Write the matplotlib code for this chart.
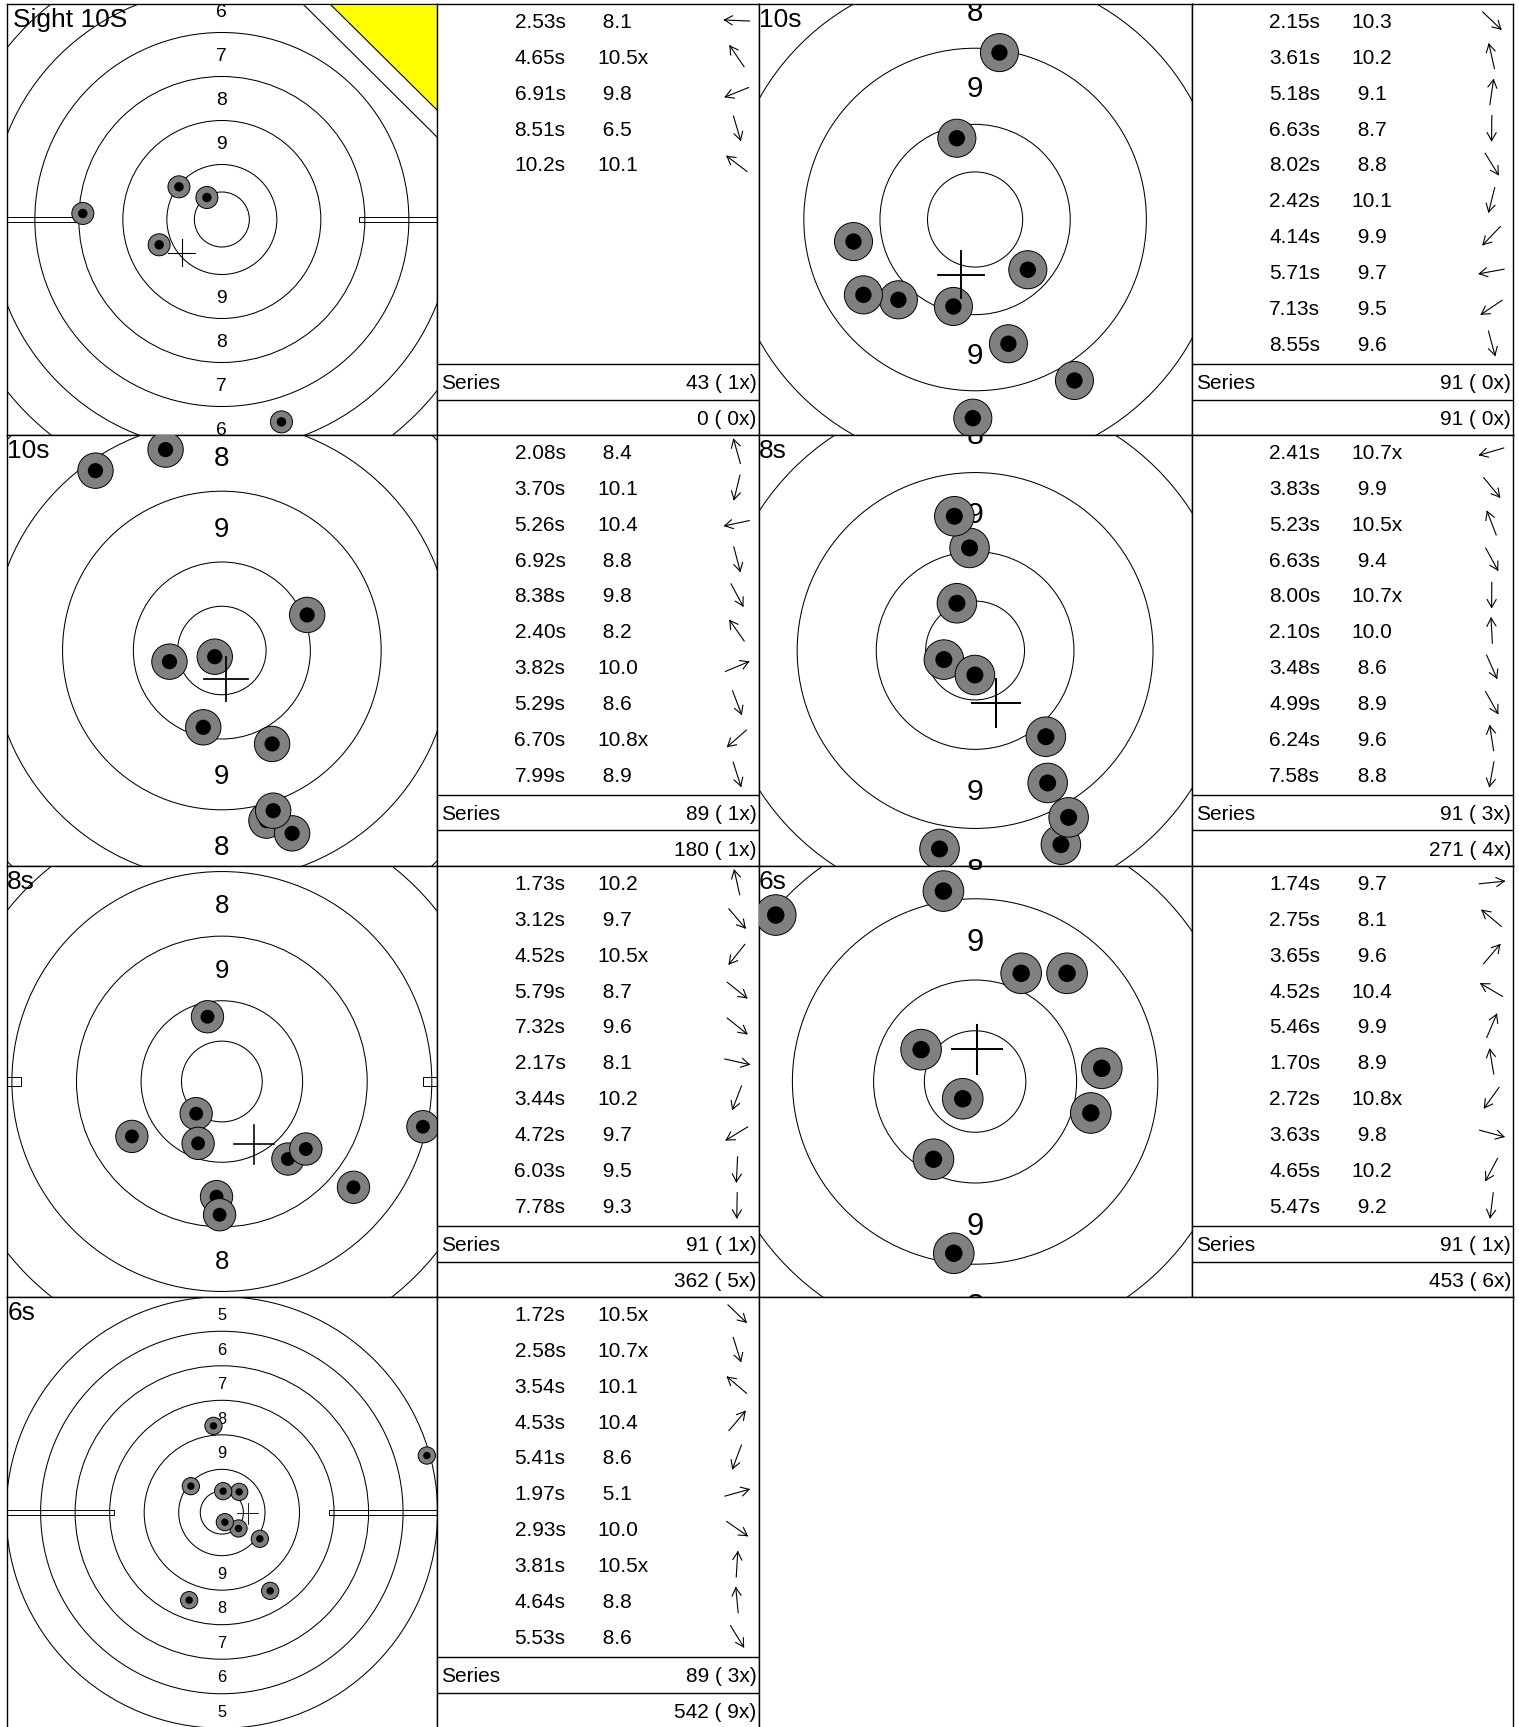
import numpy as np
import matplotlib
matplotlib.use('Agg')
import matplotlib.pyplot as plt
from matplotlib.patches import Circle, Rectangle, Polygon

plt.rcParams['font.family'] = ['Liberation Sans', 'DejaVu Sans']

W, H = 1519, 1727

# ---- data ----
# 25m rapid fire target, ring radii in mm (inner ten, 10, 9, 8, 7, 6, 5)
ring_r = [25, 50, 90, 130, 170, 210, 250]
ring_labels = [9, 8, 7, 6, 5]
label_r = [70, 110, 150, 190, 230]

panel_names = ['Sight 10S', '10s', '10s', '8s', '8s', '6s', '6s']
is_sight = [True, False, False, False, False, False, False]

# shot positions (mm from centre, y up), in table order
shots_x = [
    [-126.4, -13.6, -57.0, 54.2, -39.0],
    [27.7, -9.6, 12.8, -1.2, 52.2, -11.4, -40.3, -63.9, -58.7, 17.5],
    [-31.8, -10.5, -29.6, 25.2, 28.4, -71.4, 48.2, 39.7, -4.0, 29.0],
    [-15.8, 35.8, -9.2, 36.7, -0.1, -2.8, 43.4, 47.3, -10.5, -18.0],
    [-8.9, 40.9, -15.9, 81.5, 52.0, 124.5, -14.7, -55.7, -3.3, -1.4],
    [62.4, -98.2, 45.3, -26.6, 22.7, -15.6, -6.1, 57.0, -20.5, -10.5],
    [19.3, 3.5, -35.9, 20.1, -37.9, 237.5, 44.0, 1.5, -9.7, 56.0],
]
shots_y = [
    [5.5, 20.0, -23.0, -184.0, 29.7],
    [-26.4, 42.7, 87.7, -104.4, -84.6, -45.7, -42.2, -11.6, -39.6, -65.3],
    [113.5, -43.4, -6.3, -96.1, -52.8, 101.6, 20.1, -103.3, -3.5, -90.5],
    [-4.6, -43.6, 23.9, -67.0, -12.4, 51.9, -98.2, -84.4, 67.9, -100.4],
    [40.1, -48.0, -19.9, -65.5, -41.8, -28.0, -38.3, -34.0, -71.3, -82.5],
    [6.5, 82.0, 53.3, 15.7, 53.3, 93.8, -8.5, -15.5, -38.3, -84.6],
    [-18.5, -11.2, 30.5, 23.9, -101.6, 66.0, -30.5, 24.7, 100.4, -90.8],
]
times = [
    ['2.53s', '4.65s', '6.91s', '8.51s', '10.2s'],
    ['2.15s', '3.61s', '5.18s', '6.63s', '8.02s', '2.42s', '4.14s', '5.71s', '7.13s', '8.55s'],
    ['2.08s', '3.70s', '5.26s', '6.92s', '8.38s', '2.40s', '3.82s', '5.29s', '6.70s', '7.99s'],
    ['2.41s', '3.83s', '5.23s', '6.63s', '8.00s', '2.10s', '3.48s', '4.99s', '6.24s', '7.58s'],
    ['1.73s', '3.12s', '4.52s', '5.79s', '7.32s', '2.17s', '3.44s', '4.72s', '6.03s', '7.78s'],
    ['1.74s', '2.75s', '3.65s', '4.52s', '5.46s', '1.70s', '2.72s', '3.63s', '4.65s', '5.47s'],
    ['1.72s', '2.58s', '3.54s', '4.53s', '5.41s', '1.97s', '2.93s', '3.81s', '4.64s', '5.53s'],
]
scores = [
    ['8.1', '10.5x', '9.8', '6.5', '10.1'],
    ['10.3', '10.2', '9.1', '8.7', '8.8', '10.1', '9.9', '9.7', '9.5', '9.6'],
    ['8.4', '10.1', '10.4', '8.8', '9.8', '8.2', '10.0', '8.6', '10.8x', '8.9'],
    ['10.7x', '9.9', '10.5x', '9.4', '10.7x', '10.0', '8.6', '8.9', '9.6', '8.8'],
    ['10.2', '9.7', '10.5x', '8.7', '9.6', '8.1', '10.2', '9.7', '9.5', '9.3'],
    ['9.7', '8.1', '9.6', '10.4', '9.9', '8.9', '10.8x', '9.8', '10.2', '9.2'],
    ['10.5x', '10.7x', '10.1', '10.4', '8.6', '5.1', '10.0', '10.5x', '8.8', '8.6'],
]

# ---- layout (pixels) ----
zoom = [1.1, 1.903, 1.77, 1.977, 1.615, 2.03, 0.863]   # px per mm in each target
col_x = [6.7, 758.5]
tgt_w = [430.3, 433.2]
tbl_w = [321.5, 321.3]
row_y0 = 4.0
row_h = 431.0
first_row = 16.5
row_step = 35.85

fig = plt.figure(figsize=(W / 100, H / 100), dpi=100)


def px_axes(left, top, w, h):
    ax = fig.add_axes([left / W, 1 - (top + h) / H, w / W, h / H])
    ax.set_xticks([])
    ax.set_yticks([])
    for sp in ax.spines.values():
        sp.set_linewidth(1.0)
    return ax


def draw_arrow(ax, cx, cy, ang, L=25, head=9):
    d = np.array([np.cos(ang), -np.sin(ang)])
    tail = np.array([cx, cy]) - d * L / 2
    tip = np.array([cx, cy]) + d * L / 2
    ax.plot([tail[0], tip[0]], [tail[1], tip[1]], color='black', lw=0.8)
    for a in (np.radians(30), -np.radians(30)):
        rot = np.array([[np.cos(a), -np.sin(a)], [np.sin(a), np.cos(a)]])
        b = tip - rot @ d * head
        ax.plot([tip[0], b[0]], [tip[1], b[1]], color='black', lw=0.8)


run_pts, run_x = 0, 0
for k in range(len(panel_names)):
    r, c = divmod(k, 2)
    top = row_y0 + r * row_h
    left = col_x[c]
    s = zoom[k]
    tw = tgt_w[c]

    # target
    ax = px_axes(left, top, tw, row_h)
    hx, hy = tw / 2 / s, row_h / 2 / s
    ax.set_xlim(-hx, hx)
    ax.set_ylim(-hy, hy)
    ax.add_patch(Rectangle((124.5, -2.6), 300, 5.2, fc='white', ec='black', lw=0.7, zorder=1))
    ax.add_patch(Rectangle((-424.5, -2.6), 300, 5.2, fc='white', ec='black', lw=0.7, zorder=1))
    for rr in ring_r:
        ax.add_patch(Circle((0, 0), rr, fill=False, ec='black', lw=0.75, zorder=2))
    fs = 4 + 9 * s
    half_txt = fs / 72 * 100 * 0.36 / s     # half digit height in mm
    for lab, lr in zip(ring_labels, label_r):
        if lr - half_txt >= hy:
            continue
        for sg in (1, -1):
            ax.text(0, sg * lr, str(lab), ha='center', va='center_baseline',
                    fontsize=fs, zorder=3, clip_on=True)
    if is_sight[k]:
        ax.add_patch(Polygon([(0.689, 1), (1, 1), (1, 0.691)], closed=True, fc='white',
                             ec='black', lw=0.8, transform=ax.transAxes, zorder=4))
        ax.add_patch(Polygon([(0.751, 1), (1, 1), (1, 0.753)], closed=True, fc='#ffff00',
                             ec='black', lw=0.8, transform=ax.transAxes, zorder=4))
    xs, ys = shots_x[k], shots_y[k]
    for i, (x, y) in enumerate(zip(xs, ys)):
        ax.add_patch(Circle((x, y), 10, fc='#808080', ec='black', lw=0.7, zorder=5 + 2 * i))
        ax.add_patch(Circle((x, y), 4.3, fc='black', ec='none', zorder=6 + 2 * i))
    mx, my = np.mean(xs), np.mean(ys)
    arm = 12.2
    ax.plot([mx - arm, mx + arm], [my, my], color='black', lw=s * 0.72, zorder=40)
    ax.plot([mx, mx], [my - arm, my + arm], color='black', lw=s * 0.72, zorder=40)
    off = 6 if is_sight[k] else 0.5
    fig.text((left + off) / W, 1 - (top + 4) / H, panel_names[k], fontsize=19,
             ha='left', va='top', zorder=50)

    # table
    tl = left + tw
    tb = px_axes(tl, top, tbl_w[c], row_h)
    tb.set_xlim(0, tbl_w[c])
    tb.set_ylim(row_h, 0)
    for i, (t, sc) in enumerate(zip(times[k], scores[k])):
        yy = first_row + i * row_step
        tb.text(128.5, yy, t, ha='right', va='center_baseline', fontsize=15)
        txt = sc if sc.endswith('x') else sc.rjust(4)
        tb.text(160, yy, txt, ha='left', va='center_baseline', fontsize=15)
        draw_arrow(tb, 300, yy, np.arctan2(ys[i], xs[i]))
    tb.axhline(row_h - 71, color='black', lw=1.0)
    tb.axhline(row_h - 35.5, color='black', lw=1.0)
    pts = sum(int(float(sc.rstrip('x'))) for sc in scores[k])
    nx = sum(sc.endswith('x') for sc in scores[k])
    if not is_sight[k]:
        run_pts += pts
        run_x += nx
    tb.text(4.5, row_h - 53.25, 'Series', ha='left', va='center_baseline', fontsize=15)
    tb.text(tbl_w[c] - 2, row_h - 53.25, f"{pts} ({nx:2d}x)", ha='right',
            va='center_baseline', fontsize=15)
    tb.text(tbl_w[c] - 2, row_h - 17.75, f"{run_pts} ({run_x:2d}x)", ha='right',
            va='center_baseline', fontsize=15)

# empty cell next to the last target
px_axes(col_x[1], row_y0 + 3 * row_h, tgt_w[1] + tbl_w[1], row_h)

fig.savefig('out.png', dpi=100)
